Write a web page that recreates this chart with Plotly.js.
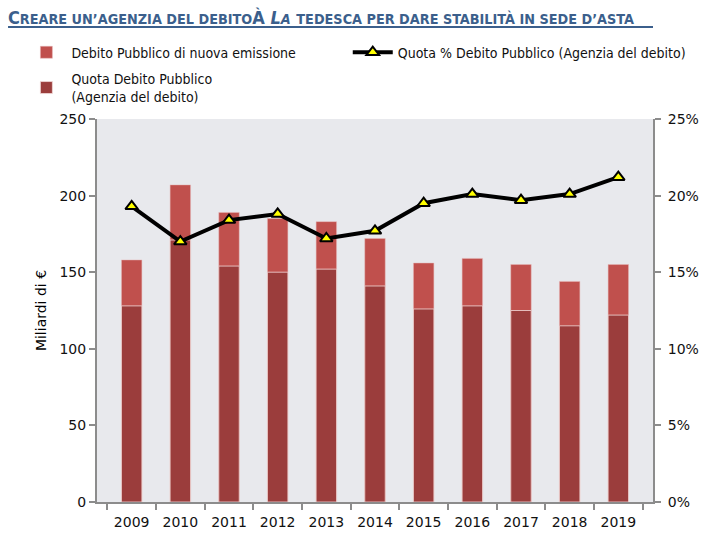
<!DOCTYPE html>
<html><head><meta charset="utf-8">
<script src="https://cdn.plot.ly/plotly-3.0.1.min.js"></script>
<style>body{margin:0;background:#fff}#chart{width:720px;height:540px}</style>
</head><body><div id="chart"></div>
<script>
const years = ['2009','2010','2011','2012','2013','2014','2015','2016','2017','2018','2019'];
const nuovaEmissione = [158, 207, 189, 185, 183, 172, 156, 159, 155, 144, 155];
const quotaAgenzia = [128, 171, 154, 150, 152, 141, 126, 128, 125, 115, 122];
const quotaPct = [0.193, 0.170, 0.184, 0.188, 0.172, 0.177, 0.195, 0.201, 0.197, 0.201, 0.212];

const FONT = '"DejaVu Sans Condensed", "DejaVu Sans", sans-serif';
const TICKFONT = '"DejaVu Sans", sans-serif';

const traces = [
  {type:'bar', x:years, y:nuovaEmissione, name:'Debito Pubblico di nuova emissione',
   marker:{color:'#c0504d', line:{color:'#e6b9b8', width:0.5}}, width:0.42,
   legend:'legend', legendgroup:'a'},
  {type:'bar', x:years, y:quotaAgenzia, name:'Quota Debito Pubblico<br>(Agenzia del debito)',
   marker:{color:'#9b3d3c', line:{color:'#f2dcdb', width:0.8}}, width:0.42,
   legend:'legend', legendgroup:'b'},
  {type:'scatter', mode:'lines+markers', x:years, y:quotaPct, yaxis:'y2',
   name:'Quota % Debito Pubblico (Agenzia del debito)',
   line:{color:'#000', width:4},
   marker:{symbol:'triangle-up', size:11, color:'#ffff00', line:{color:'#000', width:2}},
   legend:'legend2'}
];

const S = 'font-size:14.3px';
const titleText = 'C<span style="' + S + '">REARE UN’AGENZIA DEL DEBITO</span>À <i>L<span style="' + S + '">A</span></i> <span style="' + S + '">TEDESCA PER DARE STABILITÀ IN SEDE D’ASTA</span>';

const layout = {
  width:720, height:540,
  margin:{l:97, r:67, t:119, b:38},
  paper_bgcolor:'#fff', plot_bgcolor:'#e8e9ed',
  font:{family:FONT, size:14, color:'#222'},
  barmode:'overlay',
  title:{text:titleText, x:0.011, xanchor:'left', xref:'container', y:0.978, yanchor:'top',
         font:{family:FONT, size:18, color:'#3b5f8c', weight:'bold'}},
  xaxis:{type:'category', showline:true, linecolor:'#8c8c8c', linewidth:2,
         ticks:'outside', tickson:'boundaries', ticklen:6, tickcolor:'#8c8c8c', tickwidth:2,
         ticklabelstandoff:6,
         tickfont:{family:TICKFONT, size:14, color:'#111'}, showgrid:false, zeroline:false},
  yaxis:{range:[0,250], dtick:50, showline:true, linecolor:'#8c8c8c', linewidth:2,
         ticks:'outside', ticklen:6, tickcolor:'#8c8c8c', tickwidth:2, showgrid:false, zeroline:false,
         tickfont:{family:TICKFONT, size:14, color:'#111'},
         title:{text:'Miliardi di €', font:{family:TICKFONT, size:14, color:'#000'}, standoff:10}},
  yaxis2:{range:[0,0.25], dtick:0.05, tickformat:'.0%', overlaying:'y', side:'right',
          showline:true, linecolor:'#8c8c8c', linewidth:2, ticks:'outside', ticklen:6,
          tickcolor:'#8c8c8c', tickwidth:2, showgrid:false, zeroline:false, ticklabelstandoff:4,
          tickfont:{family:TICKFONT, size:14, color:'#111'}},
  legend:{x:-0.136, xanchor:'left', y:1.215, yanchor:'top', orientation:'v',
          font:{size:14, color:'#111'}, bgcolor:'rgba(0,0,0,0)', traceorder:'grouped',
          itemwidth:40, tracegroupgap:5},
  legend2:{x:0.451, xanchor:'left', y:1.215, yanchor:'top', font:{size:14, color:'#111'},
           bgcolor:'rgba(0,0,0,0)', itemwidth:40},
  shapes:[{type:'line', xref:'paper', yref:'paper', x0:-0.16, x1:1.0, y0:1.24, y1:1.24,
           line:{color:'#3b5f8c', width:2}}]
};

Plotly.newPlot('chart', traces, layout, {displayModeBar:false, staticPlot:true});
</script></body></html>
